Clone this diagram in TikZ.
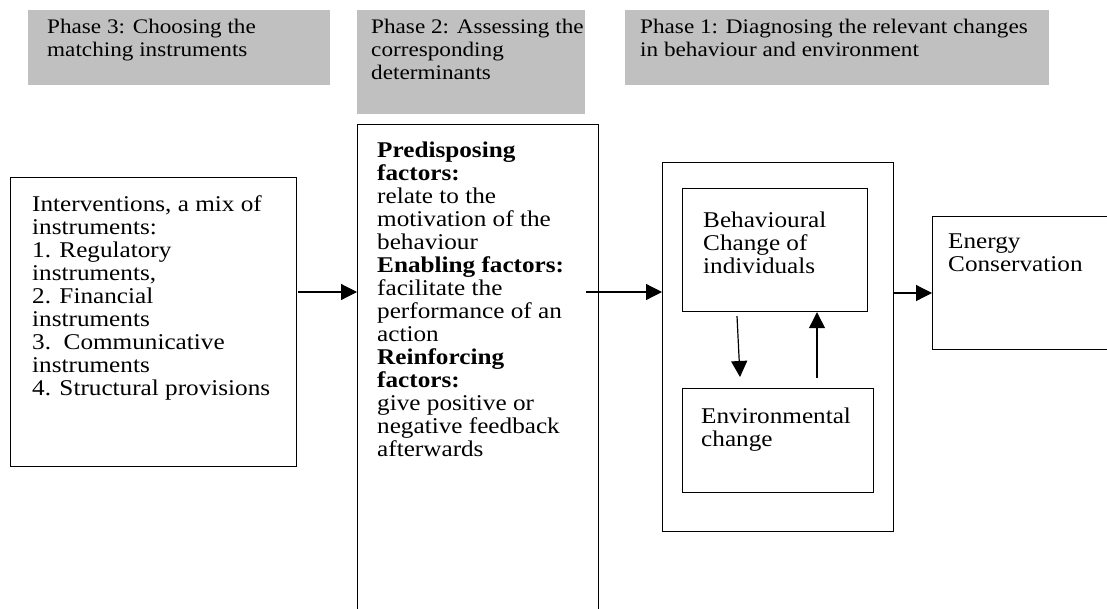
\documentclass[tikz,border=0pt]{standalone}
\usepackage{fontspec}
\setmainfont{Liberation Serif}[FakeStretch=1.12]
\usetikzlibrary{arrows.meta,calc}
\definecolor{phasegray}{HTML}{C0C0C0}
\begin{document}
\begin{tikzpicture}[x=1pt,y=-1pt,
  phase/.style={fill=phasegray, draw=none, inner sep=0, anchor=north west},
  box/.style={draw, line width=1.2pt, inner sep=0, anchor=north west},
  txt/.style={inner sep=0, anchor=north west, align=left, font=\fontsize{22.5}{23}\selectfont},
  ptxt/.style={inner sep=0, anchor=north west, align=left, font=\fontsize{20.7}{23}\selectfont},
  arr/.style={line width=1.2pt, -{Triangle[length=16pt,width=16pt]}}]
\useasboundingbox (0,0) rectangle (1107,608);
\clip (0,0) rectangle (1107,608);
% phase headers
\node[phase, minimum width=302pt, minimum height=75pt] (ph3) at (28,10) {};
\node[phase, minimum width=228pt, minimum height=104pt] (ph2) at (357,10) {};
\node[phase, minimum width=424pt, minimum height=75pt] (ph1) at (625,10) {};
\node[ptxt] (p3t) at (47,19) {Phase 3: Choosing the\\matching instruments};
\node[ptxt] (p2t) at (371,19) {Phase 2: Assessing the\\corresponding\\determinants};
\node[ptxt] (p1t) at (640,19) {Phase 1: Diagnosing the relevant changes\\in behaviour and environment};
% boxes
\node[box, minimum width=286pt, minimum height=289pt] (interv) at (10,177) {};
\node[box, minimum width=241pt, minimum height=500pt] (det) at (357,124) {};
\node[box, minimum width=231pt, minimum height=369pt] (outer) at (662,162) {};
\node[box, minimum width=185pt, minimum height=123pt] (behav) at (682,188) {};
\node[box, minimum width=191pt, minimum height=104pt] (env) at (682,388) {};
\node[box, minimum width=200pt, minimum height=133pt] (energy) at (932,216) {};
% texts
\node[txt] (intt) at (32,195) {Interventions, a mix of\\instruments:\\1. Regulatory\\instruments,\\2. Financial\\instruments\\3.\ \ Communicative\\instruments\\4. Structural provisions};
\node[txt] (dett) at (377,142) {\textbf{Predisposing}\\\textbf{factors:}\\relate to the\\motivation of the\\behaviour\\\textbf{Enabling factors:}\\facilitate the\\performance of an\\action\\\textbf{Reinforcing}\\\textbf{factors:}\\give positive or\\negative feedback\\afterwards};
\node[txt] (beht) at (703,212) {Behavioural\\Change of\\individuals};
\node[txt] (envt) at (701,408) {Environmental\\change};
\node[txt] (enet) at (948,234) {Energy\\Conservation};
% connectors
\coordinate (a1) at (298,292);
\draw[arr] (a1) -- (a1 -| det.west);
\coordinate (a2) at (586,292);
\draw[arr] (a2) -- (a2 -| outer.west);
\coordinate (a3) at (893,293);
\draw[arr] (a3 -| outer.east) -- (a3 -| energy.west);
\coordinate (d1) at (737,316);
\coordinate (d2) at (740,377);
\draw[arr] (d1) -- (d2);
\coordinate (u1) at (817,378);
\draw[arr] (u1) -- (u1 |- behav.south);
\end{tikzpicture}
\end{document}
